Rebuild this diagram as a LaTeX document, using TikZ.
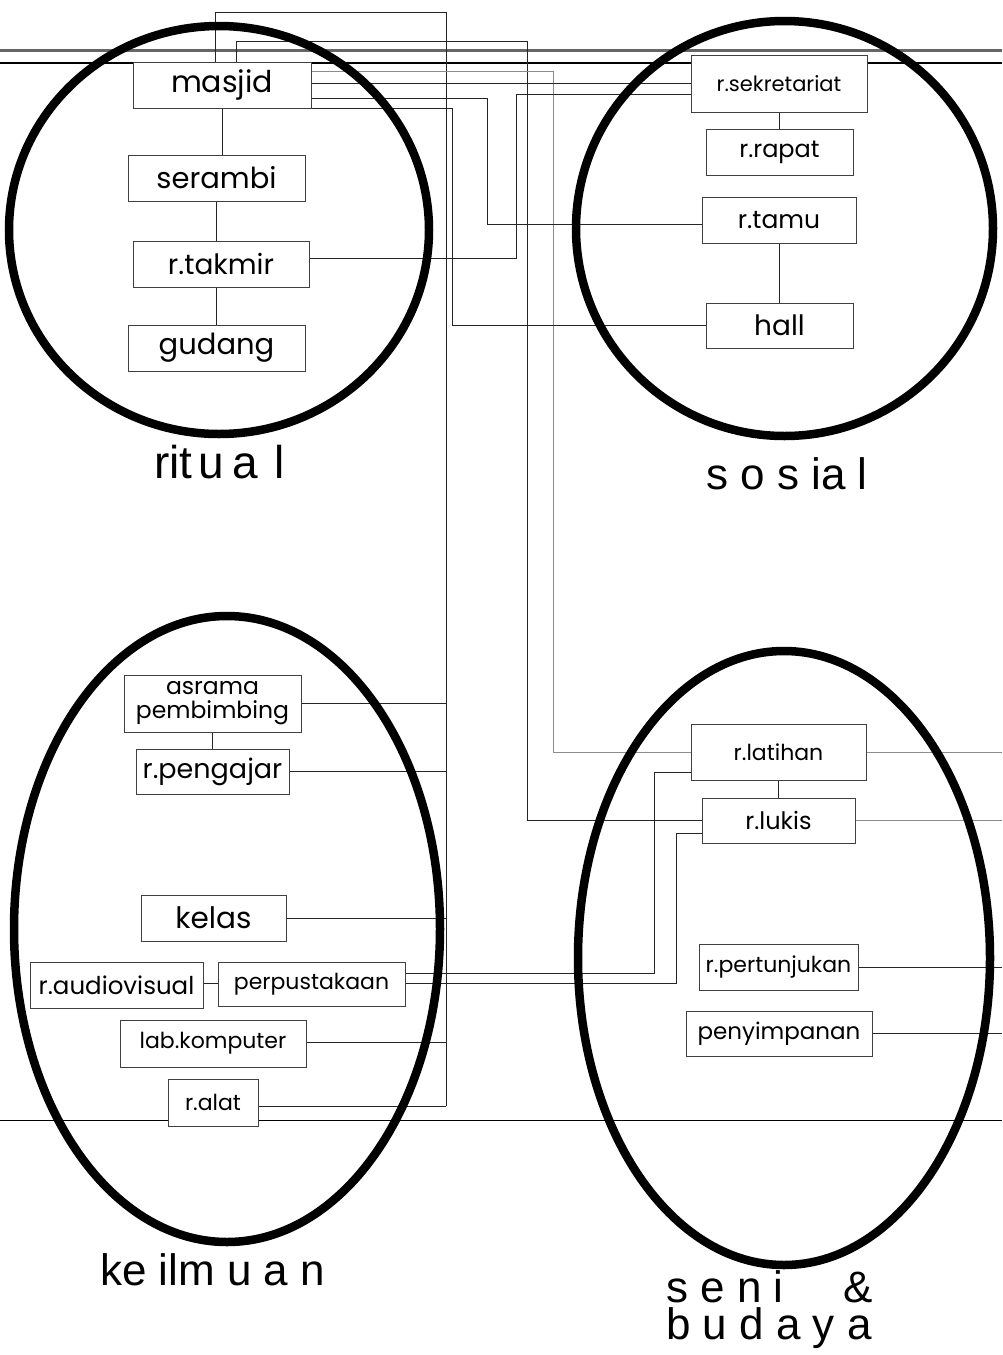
\documentclass[tikz,border=0pt]{standalone}
\usepackage{fontspec}
\setmainfont{Poppins}
\newfontfamily\grpfont{Liberation Sans}
\newcommand\roomsz[1]{\fontsize{#1}{#1}\selectfont}
\newcommand\roomszb[2]{\fontsize{#1}{#2}\selectfont}
\pgfdeclarelayer{paper}
\pgfdeclarelayer{wires}
\pgfdeclarelayer{rings}
\pgfsetlayers{paper,wires,rings,main}
\begin{document}
\begin{tikzpicture}[x=1pt,y=-1pt,
  room/.style={draw=black!75, fill=white, line width=0.7pt, inner sep=0pt, align=center},
  wire/.style={draw=black!85, line width=0.7pt},
  pale/.style={draw=black!45, line width=0.8pt},
  ring/.style={draw=black, line width=8.5pt},
  grp/.style={font=\grpfont\roomsz{44}, inner sep=0pt, anchor=base west}
]
\useasboundingbox (0,0) rectangle (1002,1355);
\begin{pgfonlayer}{paper}
  \fill[white] (0,0) rectangle (1002,1355);
\end{pgfonlayer}

% ---- ritual ----
\node[room, minimum width=178pt, minimum height=46pt, font=\roomsz{30}] (masjid) at (222,85) {masjid};
\node[room, minimum width=177pt, minimum height=46pt, font=\roomsz{29}] (serambi) at (216.5,178) {serambi};
\node[room, minimum width=176pt, minimum height=46pt, font=\roomsz{28}] (takmir) at (221,264) {r.takmir};
\node[room, minimum width=177pt, minimum height=46pt, font=\roomsz{29}] (gudang) at (216.5,348) {gudang};

% ---- sosial ----
\node[room, minimum width=176pt, minimum height=57pt, font=\roomsz{21}] (sekretariat) at (779,83.5) {r.sekretariat};
\node[room, minimum width=147pt, minimum height=46pt, font=\roomsz{24}] (rapat) at (779.5,152) {r.rapat};
\node[room, minimum width=154pt, minimum height=46pt, font=\roomsz{25}] (tamu) at (779,220) {r.tamu};
\node[room, minimum width=147pt, minimum height=45pt, font=\roomsz{28}] (hall) at (779.5,325.5) {hall};

% ---- keilmuan ----
\node[room, minimum width=177pt, minimum height=57pt, font=\roomszb{23.5}{24}] (asrama) at (212.5,703.5) {asrama\\pembimbing};
\node[room, minimum width=153pt, minimum height=45pt, font=\roomsz{27}] (pengajar) at (212.5,771.5) {r.pengajar};
\node[room, minimum width=145pt, minimum height=46pt, font=\roomsz{29.5}] (kelas) at (213.5,918) {kelas};
\node[room, minimum width=173pt, minimum height=46pt, font=\roomsz{24.5}] (audiovisual) at (116.5,985) {r.audiovisual};
\node[room, minimum width=187pt, minimum height=44pt, font=\roomsz{22}] (perpus) at (311.5,984) {perpustakaan};
\node[room, minimum width=186pt, minimum height=47pt, font=\roomsz{22}] (lab) at (213,1043.5) {lab.komputer};
\node[room, minimum width=90pt, minimum height=47pt, font=\roomsz{22}] (alat) at (213,1102.5) {r.alat};

% ---- seni & budaya ----
\node[room, minimum width=175pt, minimum height=56pt, font=\roomsz{22}] (latihan) at (778.5,752) {r.latihan};
\node[room, minimum width=153pt, minimum height=45pt, font=\roomsz{24}] (lukis) at (778.5,820.5) {r.lukis};
\node[room, minimum width=159pt, minimum height=46pt, font=\roomsz{22}] (pertunjukan) at (778.5,967) {r.pertunjukan};
\node[room, minimum width=186pt, minimum height=45pt, font=\roomsz{23}] (penyimpanan) at (779,1033.5) {penyimpanan};

% ---- group names ----
\node[grp, font=\grpfont\roomsz{46}] (lblritual) at (154,478) {rit\hspace{6pt}u\hspace{8pt}a\hspace{17pt}l};
\node[grp] (lblsosial) at (706,489) {s o s ia l};
\node[grp] (lblkeilmuan) at (100,1285) {ke ilm u a n};
\node[grp, anchor=north west, align=left, font=\grpfont\roomszb{44}{37}] (lblseni) at (666,1270)
  {s e n i\hspace{60pt}\&\\b u d a y a};

% ---- routing columns ----
\coordinate (busTop) at (446,12);
\coordinate (lukTop) at (527,41);
\coordinate (latCol) at (553,0);
\coordinate (tamCol) at (487,0);
\coordinate (halCol) at (452,0);
\coordinate (takCol) at (516,0);
\coordinate (perLat) at (654,0);
\coordinate (perLuk) at (676,0);
\coordinate (edge) at (1002,0);

\begin{pgfonlayer}{wires}
  % frame lines
  \draw[line width=3pt, black!60] (0,50) -- (1002,50);
  \draw[line width=1.5pt] (0,63) -- (1002,63);
  \draw[line width=1pt] (0,1120) -- (1002,1120);

  % masjid to the keilmuan bus
  \draw[wire] ([xshift=-7pt]masjid.north) |- (busTop) -- ([yshift=-3.5pt]busTop |- alat.east);
  \foreach \n/\s in {asrama/0, pengajar/0, kelas/0, lab/1.5, alat/-3.5}
    \draw[wire] ([yshift=\s pt]\n.east) -- ([yshift=\s pt]\n.east -| busTop);

  % masjid to the other groups
  \draw[wire] ([xshift=14pt]masjid.north) |- (lukTop) |- (lukis.west);
  \draw[pale] ([yshift=14pt]masjid.east) -| (latCol |- latihan.west) -- (latihan.west);
  \draw[wire] ([yshift=2pt]masjid.east) -- ([yshift=2pt]masjid.east -| sekretariat.west);
  \draw[wire] ([yshift=-13pt]masjid.east) -| ([yshift=-4pt]tamu.west -| tamCol) -- ([yshift=-4pt]tamu.west);
  \draw[wire] (masjid.south east) -| (halCol |- hall.west) -- (hall.west);
  \draw[wire] ([yshift=6pt]takmir.east) -| ([yshift=-10.5pt]sekretariat.west -| takCol) -- ([yshift=-10.5pt]sekretariat.west);

  % links inside the groups
  \draw[wire] (masjid.south) -- (masjid.south |- serambi.north);
  \draw[wire] (serambi.south) -- (serambi.south |- takmir.north);
  \draw[wire] (gudang.north) -- (gudang.north |- takmir.south);
  \draw[wire] (sekretariat.south) -- (sekretariat.south |- rapat.north);
  \draw[wire] (tamu.south) -- (tamu.south |- hall.north);
  \draw[wire] (asrama.south) -- (asrama.south |- pengajar.north);
  \draw[wire] (latihan.south) -- (latihan.south |- lukis.north);
  \draw[wire] ([yshift=2pt]audiovisual.east) -- ([yshift=2pt]audiovisual.east -| perpus.west);

  % perpustakaan to seni & budaya
  \draw[wire] ([yshift=11pt]perpus.east) -| ([yshift=-20pt]latihan.west -| perLat) -- ([yshift=-20pt]latihan.west);
  \draw[wire] ([yshift=1pt]perpus.east) -| ([yshift=-12.5pt]lukis.west -| perLuk) -- ([yshift=-12.5pt]lukis.west);

  % seni & budaya leads running off to the right
  \draw[pale] (latihan.east) -- (latihan.east -| edge);
  \draw[pale] (lukis.east) -- (lukis.east -| edge);
  \draw[wire] (pertunjukan.east) -- (pertunjukan.east -| edge);
  \draw[wire] (penyimpanan.east) -- (penyimpanan.east -| edge);
\end{pgfonlayer}

\begin{pgfonlayer}{rings}
  \draw[ring] (219,230) ellipse [x radius=210pt, y radius=204pt];
  \draw[ring] (784.5,228.5) ellipse [x radius=208.5pt, y radius=207.5pt];
  \draw[ring] (227,929) ellipse [x radius=213pt, y radius=313pt];
  \draw[ring] (784,958) ellipse [x radius=206pt, y radius=307pt];
\end{pgfonlayer}
\end{tikzpicture}
\end{document}
